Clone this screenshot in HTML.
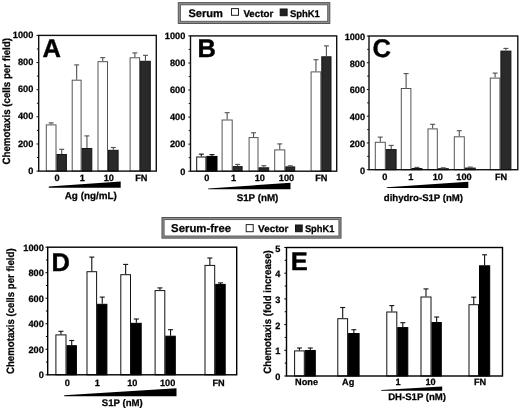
<!DOCTYPE html>
<html><head><meta charset="utf-8"><title>Chemotaxis figure</title>
<style>
html,body{margin:0;padding:0;background:#fff;}
body{width:520px;height:410px;overflow:hidden;}
svg{display:block;font-family:"Liberation Sans", sans-serif;filter:grayscale(1);}
text{stroke:#000;stroke-width:0.25px;paint-order:stroke;text-rendering:geometricPrecision;}
</style></head>
<body>
<svg width="520" height="410" viewBox="0 0 520 410" fill="#000">
<rect width="520" height="410" fill="#fff"/>
<rect x="46.3" y="124.9" width="9.7" height="46.2" fill="#fff" stroke="#555" stroke-width="1"/>
<rect x="57" y="154.5" width="9.4" height="16.6" fill="#2a2a2a" stroke="#151515" stroke-width="1"/>
<line x1="51.15" y1="124.4" x2="51.15" y2="122.9" stroke="#505050" stroke-width="1.1"/>
<line x1="48.65" y1="122.9" x2="53.65" y2="122.9" stroke="#505050" stroke-width="1.1"/>
<line x1="61.7" y1="154" x2="61.7" y2="149.3" stroke="#505050" stroke-width="1.1"/>
<line x1="59.2" y1="149.3" x2="64.2" y2="149.3" stroke="#505050" stroke-width="1.1"/>
<rect x="72.2" y="80.2" width="8.9" height="90.9" fill="#fff" stroke="#555" stroke-width="1"/>
<rect x="82.1" y="148.5" width="9.7" height="22.6" fill="#2a2a2a" stroke="#151515" stroke-width="1"/>
<line x1="76.65" y1="79.7" x2="76.65" y2="64.9" stroke="#505050" stroke-width="1.1"/>
<line x1="74.15" y1="64.9" x2="79.15" y2="64.9" stroke="#505050" stroke-width="1.1"/>
<line x1="86.95" y1="148" x2="86.95" y2="135.9" stroke="#505050" stroke-width="1.1"/>
<line x1="84.45" y1="135.9" x2="89.45" y2="135.9" stroke="#505050" stroke-width="1.1"/>
<rect x="98" y="61.7" width="9.5" height="109.4" fill="#fff" stroke="#555" stroke-width="1"/>
<rect x="108.5" y="150.3" width="9.6" height="20.8" fill="#2a2a2a" stroke="#151515" stroke-width="1"/>
<line x1="102.75" y1="61.2" x2="102.75" y2="57.6" stroke="#505050" stroke-width="1.1"/>
<line x1="100.25" y1="57.6" x2="105.25" y2="57.6" stroke="#505050" stroke-width="1.1"/>
<line x1="113.3" y1="149.8" x2="113.3" y2="147.5" stroke="#505050" stroke-width="1.1"/>
<line x1="110.8" y1="147.5" x2="115.8" y2="147.5" stroke="#505050" stroke-width="1.1"/>
<rect x="130.1" y="57.8" width="9.5" height="113.3" fill="#fff" stroke="#555" stroke-width="1"/>
<rect x="140.6" y="61.3" width="9.7" height="109.8" fill="#2a2a2a" stroke="#151515" stroke-width="1"/>
<line x1="134.85" y1="57.3" x2="134.85" y2="52.9" stroke="#505050" stroke-width="1.1"/>
<line x1="132.35" y1="52.9" x2="137.35" y2="52.9" stroke="#505050" stroke-width="1.1"/>
<line x1="145.45" y1="60.8" x2="145.45" y2="55.3" stroke="#505050" stroke-width="1.1"/>
<line x1="142.95" y1="55.3" x2="147.95" y2="55.3" stroke="#505050" stroke-width="1.1"/>
<rect x="38.7" y="35.4" width="117.6" height="135.7" fill="none" stroke="#111" stroke-width="1.4"/>
<line x1="36.5" y1="171.1" x2="38.7" y2="171.1" stroke="#111" stroke-width="1"/>
<line x1="36.9" y1="157.53" x2="38.7" y2="157.53" stroke="#111" stroke-width="1"/>
<line x1="36.5" y1="143.96" x2="38.7" y2="143.96" stroke="#111" stroke-width="1"/>
<line x1="36.9" y1="130.39" x2="38.7" y2="130.39" stroke="#111" stroke-width="1"/>
<line x1="36.5" y1="116.82" x2="38.7" y2="116.82" stroke="#111" stroke-width="1"/>
<line x1="36.9" y1="103.25" x2="38.7" y2="103.25" stroke="#111" stroke-width="1"/>
<line x1="36.5" y1="89.68" x2="38.7" y2="89.68" stroke="#111" stroke-width="1"/>
<line x1="36.9" y1="76.11" x2="38.7" y2="76.11" stroke="#111" stroke-width="1"/>
<line x1="36.5" y1="62.54" x2="38.7" y2="62.54" stroke="#111" stroke-width="1"/>
<line x1="36.9" y1="48.97" x2="38.7" y2="48.97" stroke="#111" stroke-width="1"/>
<line x1="36.5" y1="35.4" x2="38.7" y2="35.4" stroke="#111" stroke-width="1"/>
<text x="33.3" y="173.7" font-size="9.2" text-anchor="end" font-weight="bold">0</text>
<text x="33.3" y="146.56" font-size="9.2" text-anchor="end" font-weight="bold">200</text>
<text x="33.3" y="119.42" font-size="9.2" text-anchor="end" font-weight="bold">400</text>
<text x="33.3" y="92.28" font-size="9.2" text-anchor="end" font-weight="bold">600</text>
<text x="33.3" y="65.14" font-size="9.2" text-anchor="end" font-weight="bold">800</text>
<text x="33.3" y="38" font-size="9.2" text-anchor="end" font-weight="bold">1000</text>
<text x="57.1" y="180.6" font-size="9.2" text-anchor="middle" font-weight="bold">0</text>
<text x="82.2" y="180.6" font-size="9.2" text-anchor="middle" font-weight="bold">1</text>
<text x="108.8" y="180.6" font-size="9.2" text-anchor="middle" font-weight="bold">10</text>
<text x="141.3" y="180.6" font-size="9.2" text-anchor="middle" font-weight="bold">FN</text>
<polygon points="48.8,186.6 120.7,181.5 120.7,187.8 48.8,187.8" fill="#000"/>
<text x="90.8" y="198.6" font-size="9.9" text-anchor="middle" font-weight="bold">Ag (ng/mL)</text>
<text x="42.6" y="56.6" font-size="25.5" text-anchor="start" font-weight="bold" style="stroke-width:0.4px">A</text>
<text x="9.6" y="101.3" font-size="10.6" text-anchor="middle" font-weight="bold" textLength="126.6" lengthAdjust="spacingAndGlyphs" transform="rotate(-90 9.6 101.3)">Chemotaxis (cells per field)</text>
<rect x="196.7" y="157" width="9.2" height="14.2" fill="#fff" stroke="#111" stroke-width="1"/>
<rect x="206.9" y="156.4" width="10.1" height="14.8" fill="#000" stroke="#000" stroke-width="1"/>
<line x1="201.3" y1="156.5" x2="201.3" y2="154.1" stroke="#111" stroke-width="1.1"/>
<line x1="198.8" y1="154.1" x2="203.8" y2="154.1" stroke="#111" stroke-width="1.1"/>
<line x1="211.95" y1="155.9" x2="211.95" y2="154.6" stroke="#111" stroke-width="1.1"/>
<line x1="209.45" y1="154.6" x2="214.45" y2="154.6" stroke="#111" stroke-width="1.1"/>
<rect x="222.1" y="120" width="10.1" height="51.2" fill="#fff" stroke="#555" stroke-width="1"/>
<rect x="233.2" y="166.6" width="8.9" height="4.6" fill="#2a2a2a" stroke="#151515" stroke-width="1"/>
<line x1="227.15" y1="119.5" x2="227.15" y2="112.7" stroke="#505050" stroke-width="1.1"/>
<line x1="224.65" y1="112.7" x2="229.65" y2="112.7" stroke="#505050" stroke-width="1.1"/>
<line x1="237.65" y1="166.1" x2="237.65" y2="164.4" stroke="#505050" stroke-width="1.1"/>
<line x1="235.15" y1="164.4" x2="240.15" y2="164.4" stroke="#505050" stroke-width="1.1"/>
<rect x="249.1" y="137.6" width="8.9" height="33.6" fill="#fff" stroke="#555" stroke-width="1"/>
<rect x="259" y="167.8" width="9.7" height="3.4" fill="#2a2a2a" stroke="#151515" stroke-width="1"/>
<line x1="253.55" y1="137.1" x2="253.55" y2="132.8" stroke="#505050" stroke-width="1.1"/>
<line x1="251.05" y1="132.8" x2="256.05" y2="132.8" stroke="#505050" stroke-width="1.1"/>
<line x1="263.85" y1="167.3" x2="263.85" y2="165.7" stroke="#505050" stroke-width="1.1"/>
<line x1="261.35" y1="165.7" x2="266.35" y2="165.7" stroke="#505050" stroke-width="1.1"/>
<rect x="274.7" y="149.9" width="10.1" height="21.3" fill="#fff" stroke="#555" stroke-width="1"/>
<rect x="285.8" y="166.9" width="8.9" height="4.3" fill="#2a2a2a" stroke="#151515" stroke-width="1"/>
<line x1="279.75" y1="149.4" x2="279.75" y2="143.9" stroke="#505050" stroke-width="1.1"/>
<line x1="277.25" y1="143.9" x2="282.25" y2="143.9" stroke="#505050" stroke-width="1.1"/>
<line x1="290.25" y1="166.4" x2="290.25" y2="165.8" stroke="#505050" stroke-width="1.1"/>
<line x1="287.75" y1="165.8" x2="292.75" y2="165.8" stroke="#505050" stroke-width="1.1"/>
<rect x="311.1" y="71.9" width="9.7" height="99.3" fill="#fff" stroke="#555" stroke-width="1"/>
<rect x="321.8" y="56.8" width="9.2" height="114.4" fill="#2a2a2a" stroke="#151515" stroke-width="1"/>
<line x1="315.95" y1="71.4" x2="315.95" y2="59.7" stroke="#505050" stroke-width="1.1"/>
<line x1="313.45" y1="59.7" x2="318.45" y2="59.7" stroke="#505050" stroke-width="1.1"/>
<line x1="326.4" y1="56.3" x2="326.4" y2="45.9" stroke="#505050" stroke-width="1.1"/>
<line x1="323.9" y1="45.9" x2="328.9" y2="45.9" stroke="#505050" stroke-width="1.1"/>
<rect x="190.5" y="35.9" width="146.2" height="135.3" fill="none" stroke="#111" stroke-width="1.4"/>
<line x1="188.3" y1="171.2" x2="190.5" y2="171.2" stroke="#111" stroke-width="1"/>
<line x1="188.7" y1="157.67" x2="190.5" y2="157.67" stroke="#111" stroke-width="1"/>
<line x1="188.3" y1="144.14" x2="190.5" y2="144.14" stroke="#111" stroke-width="1"/>
<line x1="188.7" y1="130.61" x2="190.5" y2="130.61" stroke="#111" stroke-width="1"/>
<line x1="188.3" y1="117.08" x2="190.5" y2="117.08" stroke="#111" stroke-width="1"/>
<line x1="188.7" y1="103.55" x2="190.5" y2="103.55" stroke="#111" stroke-width="1"/>
<line x1="188.3" y1="90.02" x2="190.5" y2="90.02" stroke="#111" stroke-width="1"/>
<line x1="188.7" y1="76.49" x2="190.5" y2="76.49" stroke="#111" stroke-width="1"/>
<line x1="188.3" y1="62.96" x2="190.5" y2="62.96" stroke="#111" stroke-width="1"/>
<line x1="188.7" y1="49.43" x2="190.5" y2="49.43" stroke="#111" stroke-width="1"/>
<line x1="188.3" y1="35.9" x2="190.5" y2="35.9" stroke="#111" stroke-width="1"/>
<text x="185.3" y="174.5" font-size="9.2" text-anchor="end" font-weight="bold">0</text>
<text x="185.3" y="147.44" font-size="9.2" text-anchor="end" font-weight="bold">200</text>
<text x="185.3" y="120.38" font-size="9.2" text-anchor="end" font-weight="bold">400</text>
<text x="185.3" y="93.32" font-size="9.2" text-anchor="end" font-weight="bold">600</text>
<text x="185.3" y="66.26" font-size="9.2" text-anchor="end" font-weight="bold">800</text>
<text x="185.3" y="39.2" font-size="9.2" text-anchor="end" font-weight="bold">1000</text>
<text x="206.8" y="180.8" font-size="9.2" text-anchor="middle" font-weight="bold">0</text>
<text x="233.5" y="180.8" font-size="9.2" text-anchor="middle" font-weight="bold">1</text>
<text x="259.8" y="180.8" font-size="9.2" text-anchor="middle" font-weight="bold">10</text>
<text x="286.5" y="180.8" font-size="9.2" text-anchor="middle" font-weight="bold">100</text>
<text x="321.3" y="180.8" font-size="9.2" text-anchor="middle" font-weight="bold">FN</text>
<polygon points="208.2,188.6 290.5,182.7 290.5,189.2 208.2,189.2" fill="#000"/>
<text x="257.5" y="200.6" font-size="9.8" text-anchor="middle" font-weight="bold">S1P (nM)</text>
<text x="197.6" y="56.5" font-size="25.5" text-anchor="start" font-weight="bold" style="stroke-width:0.4px">B</text>
<rect x="375.3" y="142.3" width="10" height="27.4" fill="#fff" stroke="#555" stroke-width="1"/>
<rect x="386.3" y="149.6" width="9.8" height="20.1" fill="#2a2a2a" stroke="#151515" stroke-width="1"/>
<line x1="380.3" y1="141.8" x2="380.3" y2="137.1" stroke="#505050" stroke-width="1.1"/>
<line x1="377.8" y1="137.1" x2="382.8" y2="137.1" stroke="#505050" stroke-width="1.1"/>
<line x1="391.2" y1="149.1" x2="391.2" y2="145.4" stroke="#505050" stroke-width="1.1"/>
<line x1="388.7" y1="145.4" x2="393.7" y2="145.4" stroke="#505050" stroke-width="1.1"/>
<rect x="401.3" y="88.5" width="9.6" height="81.2" fill="#fff" stroke="#555" stroke-width="1"/>
<rect x="411.9" y="168.5" width="10" height="1.2" fill="#2a2a2a" stroke="#151515" stroke-width="1"/>
<line x1="406.1" y1="88" x2="406.1" y2="73.6" stroke="#505050" stroke-width="1.1"/>
<line x1="403.6" y1="73.6" x2="408.6" y2="73.6" stroke="#505050" stroke-width="1.1"/>
<line x1="416.9" y1="168" x2="416.9" y2="167.4" stroke="#505050" stroke-width="1.1"/>
<line x1="414.4" y1="167.4" x2="419.4" y2="167.4" stroke="#505050" stroke-width="1.1"/>
<rect x="428" y="128.9" width="9.3" height="40.8" fill="#fff" stroke="#555" stroke-width="1"/>
<rect x="438.3" y="168.7" width="10" height="1" fill="#2a2a2a" stroke="#151515" stroke-width="1"/>
<line x1="432.65" y1="128.4" x2="432.65" y2="124.3" stroke="#505050" stroke-width="1.1"/>
<line x1="430.15" y1="124.3" x2="435.15" y2="124.3" stroke="#505050" stroke-width="1.1"/>
<line x1="443.3" y1="168.2" x2="443.3" y2="167.8" stroke="#505050" stroke-width="1.1"/>
<line x1="440.8" y1="167.8" x2="445.8" y2="167.8" stroke="#505050" stroke-width="1.1"/>
<rect x="454.3" y="136.8" width="10" height="32.9" fill="#fff" stroke="#555" stroke-width="1"/>
<rect x="465.3" y="168.1" width="9.9" height="1.6" fill="#2a2a2a" stroke="#151515" stroke-width="1"/>
<line x1="459.3" y1="136.3" x2="459.3" y2="130.7" stroke="#505050" stroke-width="1.1"/>
<line x1="456.8" y1="130.7" x2="461.8" y2="130.7" stroke="#505050" stroke-width="1.1"/>
<line x1="470.25" y1="167.6" x2="470.25" y2="167.1" stroke="#505050" stroke-width="1.1"/>
<line x1="467.75" y1="167.1" x2="472.75" y2="167.1" stroke="#505050" stroke-width="1.1"/>
<rect x="490.3" y="78.1" width="9.6" height="91.6" fill="#fff" stroke="#555" stroke-width="1"/>
<rect x="500.9" y="51.1" width="10" height="118.6" fill="#2a2a2a" stroke="#151515" stroke-width="1"/>
<line x1="495.1" y1="77.6" x2="495.1" y2="73.1" stroke="#505050" stroke-width="1.1"/>
<line x1="492.6" y1="73.1" x2="497.6" y2="73.1" stroke="#505050" stroke-width="1.1"/>
<line x1="505.9" y1="50.6" x2="505.9" y2="48.4" stroke="#505050" stroke-width="1.1"/>
<line x1="503.4" y1="48.4" x2="508.4" y2="48.4" stroke="#505050" stroke-width="1.1"/>
<rect x="369" y="36" width="148.8" height="133.7" fill="none" stroke="#111" stroke-width="1.4"/>
<line x1="366.8" y1="169.7" x2="369" y2="169.7" stroke="#111" stroke-width="1"/>
<line x1="367.2" y1="156.33" x2="369" y2="156.33" stroke="#111" stroke-width="1"/>
<line x1="366.8" y1="142.96" x2="369" y2="142.96" stroke="#111" stroke-width="1"/>
<line x1="367.2" y1="129.59" x2="369" y2="129.59" stroke="#111" stroke-width="1"/>
<line x1="366.8" y1="116.22" x2="369" y2="116.22" stroke="#111" stroke-width="1"/>
<line x1="367.2" y1="102.85" x2="369" y2="102.85" stroke="#111" stroke-width="1"/>
<line x1="366.8" y1="89.48" x2="369" y2="89.48" stroke="#111" stroke-width="1"/>
<line x1="367.2" y1="76.11" x2="369" y2="76.11" stroke="#111" stroke-width="1"/>
<line x1="366.8" y1="62.74" x2="369" y2="62.74" stroke="#111" stroke-width="1"/>
<line x1="367.2" y1="49.37" x2="369" y2="49.37" stroke="#111" stroke-width="1"/>
<line x1="366.8" y1="36" x2="369" y2="36" stroke="#111" stroke-width="1"/>
<text x="365.1" y="173.7" font-size="9.2" text-anchor="end" font-weight="bold">0</text>
<text x="365.1" y="146.96" font-size="9.2" text-anchor="end" font-weight="bold">200</text>
<text x="365.1" y="120.22" font-size="9.2" text-anchor="end" font-weight="bold">400</text>
<text x="365.1" y="93.48" font-size="9.2" text-anchor="end" font-weight="bold">600</text>
<text x="365.1" y="66.74" font-size="9.2" text-anchor="end" font-weight="bold">800</text>
<text x="365.1" y="40" font-size="9.2" text-anchor="end" font-weight="bold">1000</text>
<text x="384.8" y="180.2" font-size="9.2" text-anchor="middle" font-weight="bold">0</text>
<text x="410.9" y="180.2" font-size="9.2" text-anchor="middle" font-weight="bold">1</text>
<text x="437.8" y="180.2" font-size="9.2" text-anchor="middle" font-weight="bold">10</text>
<text x="464" y="180.2" font-size="9.2" text-anchor="middle" font-weight="bold">100</text>
<text x="501" y="180.2" font-size="9.2" text-anchor="middle" font-weight="bold">FN</text>
<polygon points="386.8,187.2 468.3,181.7 468.3,187.9 386.8,187.9" fill="#000"/>
<text x="423.4" y="201.4" font-size="9.6" text-anchor="middle" font-weight="bold">dihydro-S1P (nM)</text>
<text x="372.4" y="56.6" font-size="25.5" text-anchor="start" font-weight="bold" style="stroke-width:0.4px">C</text>
<rect x="55.9" y="334.9" width="10.1" height="39.9" fill="#fff" stroke="#111" stroke-width="1"/>
<rect x="67" y="345.7" width="9.4" height="29.1" fill="#000" stroke="#000" stroke-width="1"/>
<line x1="60.95" y1="334.4" x2="60.95" y2="331.3" stroke="#111" stroke-width="1.1"/>
<line x1="58.45" y1="331.3" x2="63.45" y2="331.3" stroke="#111" stroke-width="1.1"/>
<line x1="71.7" y1="345.2" x2="71.7" y2="340.5" stroke="#111" stroke-width="1.1"/>
<line x1="69.2" y1="340.5" x2="74.2" y2="340.5" stroke="#111" stroke-width="1.1"/>
<rect x="87" y="271.7" width="9.6" height="103.1" fill="#fff" stroke="#111" stroke-width="1"/>
<rect x="97.6" y="304.3" width="9.3" height="70.5" fill="#000" stroke="#000" stroke-width="1"/>
<line x1="91.8" y1="271.2" x2="91.8" y2="257.1" stroke="#111" stroke-width="1.1"/>
<line x1="89.3" y1="257.1" x2="94.3" y2="257.1" stroke="#111" stroke-width="1.1"/>
<line x1="102.25" y1="303.8" x2="102.25" y2="297.1" stroke="#111" stroke-width="1.1"/>
<line x1="99.75" y1="297.1" x2="104.75" y2="297.1" stroke="#111" stroke-width="1.1"/>
<rect x="120.8" y="274.7" width="9.7" height="100.1" fill="#fff" stroke="#111" stroke-width="1"/>
<rect x="131.5" y="323.3" width="9.7" height="51.5" fill="#000" stroke="#000" stroke-width="1"/>
<line x1="125.65" y1="274.2" x2="125.65" y2="264.4" stroke="#111" stroke-width="1.1"/>
<line x1="123.15" y1="264.4" x2="128.15" y2="264.4" stroke="#111" stroke-width="1.1"/>
<line x1="136.35" y1="322.8" x2="136.35" y2="319" stroke="#111" stroke-width="1.1"/>
<line x1="133.85" y1="319" x2="138.85" y2="319" stroke="#111" stroke-width="1.1"/>
<rect x="155.1" y="290.6" width="9.7" height="84.2" fill="#fff" stroke="#111" stroke-width="1"/>
<rect x="165.8" y="336.2" width="9.5" height="38.6" fill="#000" stroke="#000" stroke-width="1"/>
<line x1="159.95" y1="290.1" x2="159.95" y2="287.9" stroke="#111" stroke-width="1.1"/>
<line x1="157.45" y1="287.9" x2="162.45" y2="287.9" stroke="#111" stroke-width="1.1"/>
<line x1="170.55" y1="335.7" x2="170.55" y2="329.7" stroke="#111" stroke-width="1.1"/>
<line x1="168.05" y1="329.7" x2="173.05" y2="329.7" stroke="#111" stroke-width="1.1"/>
<rect x="205" y="265.4" width="9.7" height="109.4" fill="#fff" stroke="#111" stroke-width="1"/>
<rect x="215.7" y="284.4" width="9.5" height="90.4" fill="#000" stroke="#000" stroke-width="1"/>
<line x1="209.85" y1="264.9" x2="209.85" y2="258" stroke="#111" stroke-width="1.1"/>
<line x1="207.35" y1="258" x2="212.35" y2="258" stroke="#111" stroke-width="1.1"/>
<line x1="220.45" y1="283.9" x2="220.45" y2="282.9" stroke="#111" stroke-width="1.1"/>
<line x1="217.95" y1="282.9" x2="222.95" y2="282.9" stroke="#111" stroke-width="1.1"/>
<rect x="47.7" y="247.2" width="189" height="127.6" fill="none" stroke="#000" stroke-width="1.4"/>
<line x1="45.5" y1="374.8" x2="47.7" y2="374.8" stroke="#000" stroke-width="1"/>
<line x1="45.9" y1="362.04" x2="47.7" y2="362.04" stroke="#000" stroke-width="1"/>
<line x1="45.5" y1="349.28" x2="47.7" y2="349.28" stroke="#000" stroke-width="1"/>
<line x1="45.9" y1="336.52" x2="47.7" y2="336.52" stroke="#000" stroke-width="1"/>
<line x1="45.5" y1="323.76" x2="47.7" y2="323.76" stroke="#000" stroke-width="1"/>
<line x1="45.9" y1="311" x2="47.7" y2="311" stroke="#000" stroke-width="1"/>
<line x1="45.5" y1="298.24" x2="47.7" y2="298.24" stroke="#000" stroke-width="1"/>
<line x1="45.9" y1="285.48" x2="47.7" y2="285.48" stroke="#000" stroke-width="1"/>
<line x1="45.5" y1="272.72" x2="47.7" y2="272.72" stroke="#000" stroke-width="1"/>
<line x1="45.9" y1="259.96" x2="47.7" y2="259.96" stroke="#000" stroke-width="1"/>
<line x1="45.5" y1="247.2" x2="47.7" y2="247.2" stroke="#000" stroke-width="1"/>
<text x="43.8" y="378.1" font-size="9.2" text-anchor="end" font-weight="bold">0</text>
<text x="43.8" y="352.58" font-size="9.2" text-anchor="end" font-weight="bold">200</text>
<text x="43.8" y="327.06" font-size="9.2" text-anchor="end" font-weight="bold">400</text>
<text x="43.8" y="301.54" font-size="9.2" text-anchor="end" font-weight="bold">600</text>
<text x="43.8" y="276.02" font-size="9.2" text-anchor="end" font-weight="bold">800</text>
<text x="43.8" y="250.5" font-size="9.2" text-anchor="end" font-weight="bold">1000</text>
<text x="67.4" y="385.6" font-size="9.2" text-anchor="middle" font-weight="bold">0</text>
<text x="97.3" y="385.6" font-size="9.2" text-anchor="middle" font-weight="bold">1</text>
<text x="132.3" y="385.6" font-size="9.2" text-anchor="middle" font-weight="bold">10</text>
<text x="167.6" y="385.6" font-size="9.2" text-anchor="middle" font-weight="bold">100</text>
<text x="218.5" y="385.6" font-size="9.2" text-anchor="middle" font-weight="bold">FN</text>
<polygon points="64.2,395.2 176.5,388.3 176.5,396.3 64.2,396.3" fill="#000"/>
<text x="122.3" y="405.5" font-size="9.6" text-anchor="middle" font-weight="bold">S1P (nM)</text>
<text x="51.6" y="270.6" font-size="25.5" text-anchor="start" font-weight="bold" style="stroke-width:0.4px">D</text>
<text x="14.3" y="311.2" font-size="10.6" text-anchor="middle" font-weight="bold" textLength="125.6" lengthAdjust="spacingAndGlyphs" transform="rotate(-90 14.3 311.2)">Chemotaxis (cells per field)</text>
<rect x="294.6" y="350.9" width="9.7" height="25.1" fill="#fff" stroke="#111" stroke-width="1"/>
<rect x="305.3" y="350.5" width="10" height="25.5" fill="#000" stroke="#000" stroke-width="1"/>
<line x1="299.45" y1="350.4" x2="299.45" y2="348" stroke="#111" stroke-width="1.1"/>
<line x1="296.95" y1="348" x2="301.95" y2="348" stroke="#111" stroke-width="1.1"/>
<line x1="310.3" y1="350" x2="310.3" y2="348" stroke="#111" stroke-width="1.1"/>
<line x1="307.8" y1="348" x2="312.8" y2="348" stroke="#111" stroke-width="1.1"/>
<rect x="337.8" y="318.7" width="9.8" height="57.3" fill="#fff" stroke="#111" stroke-width="1"/>
<rect x="348.6" y="333.5" width="10.5" height="42.5" fill="#000" stroke="#000" stroke-width="1"/>
<line x1="342.7" y1="318.2" x2="342.7" y2="307.5" stroke="#111" stroke-width="1.1"/>
<line x1="340.2" y1="307.5" x2="345.2" y2="307.5" stroke="#111" stroke-width="1.1"/>
<line x1="353.85" y1="333" x2="353.85" y2="329.7" stroke="#111" stroke-width="1.1"/>
<line x1="351.35" y1="329.7" x2="356.35" y2="329.7" stroke="#111" stroke-width="1.1"/>
<rect x="386.8" y="312" width="10" height="64" fill="#fff" stroke="#111" stroke-width="1"/>
<rect x="397.8" y="327.6" width="10" height="48.4" fill="#000" stroke="#000" stroke-width="1"/>
<line x1="391.8" y1="311.5" x2="391.8" y2="305.6" stroke="#111" stroke-width="1.1"/>
<line x1="389.3" y1="305.6" x2="394.3" y2="305.6" stroke="#111" stroke-width="1.1"/>
<line x1="402.8" y1="327.1" x2="402.8" y2="322.7" stroke="#111" stroke-width="1.1"/>
<line x1="400.3" y1="322.7" x2="405.3" y2="322.7" stroke="#111" stroke-width="1.1"/>
<rect x="421" y="297" width="10" height="79" fill="#fff" stroke="#111" stroke-width="1"/>
<rect x="432" y="322.5" width="9.3" height="53.5" fill="#000" stroke="#000" stroke-width="1"/>
<line x1="426" y1="296.5" x2="426" y2="288.9" stroke="#111" stroke-width="1.1"/>
<line x1="423.5" y1="288.9" x2="428.5" y2="288.9" stroke="#111" stroke-width="1.1"/>
<line x1="436.65" y1="322" x2="436.65" y2="317" stroke="#111" stroke-width="1.1"/>
<line x1="434.15" y1="317" x2="439.15" y2="317" stroke="#111" stroke-width="1.1"/>
<rect x="469" y="304.7" width="9.5" height="71.3" fill="#fff" stroke="#111" stroke-width="1"/>
<rect x="479.5" y="265.8" width="10.2" height="110.2" fill="#000" stroke="#000" stroke-width="1"/>
<line x1="473.75" y1="304.2" x2="473.75" y2="297.2" stroke="#111" stroke-width="1.1"/>
<line x1="471.25" y1="297.2" x2="476.25" y2="297.2" stroke="#111" stroke-width="1.1"/>
<line x1="484.6" y1="265.3" x2="484.6" y2="254.8" stroke="#111" stroke-width="1.1"/>
<line x1="482.1" y1="254.8" x2="487.1" y2="254.8" stroke="#111" stroke-width="1.1"/>
<rect x="286.5" y="247.5" width="216" height="128.5" fill="none" stroke="#000" stroke-width="1.4"/>
<line x1="284.3" y1="376" x2="286.5" y2="376" stroke="#000" stroke-width="1"/>
<line x1="284.7" y1="363.15" x2="286.5" y2="363.15" stroke="#000" stroke-width="1"/>
<line x1="284.3" y1="350.3" x2="286.5" y2="350.3" stroke="#000" stroke-width="1"/>
<line x1="284.7" y1="337.45" x2="286.5" y2="337.45" stroke="#000" stroke-width="1"/>
<line x1="284.3" y1="324.6" x2="286.5" y2="324.6" stroke="#000" stroke-width="1"/>
<line x1="284.7" y1="311.75" x2="286.5" y2="311.75" stroke="#000" stroke-width="1"/>
<line x1="284.3" y1="298.9" x2="286.5" y2="298.9" stroke="#000" stroke-width="1"/>
<line x1="284.7" y1="286.05" x2="286.5" y2="286.05" stroke="#000" stroke-width="1"/>
<line x1="284.3" y1="273.2" x2="286.5" y2="273.2" stroke="#000" stroke-width="1"/>
<line x1="284.7" y1="260.35" x2="286.5" y2="260.35" stroke="#000" stroke-width="1"/>
<line x1="284.3" y1="247.5" x2="286.5" y2="247.5" stroke="#000" stroke-width="1"/>
<text x="280.4" y="380.1" font-size="9.2" text-anchor="end" font-weight="bold">0</text>
<text x="280.4" y="354.4" font-size="9.2" text-anchor="end" font-weight="bold">1</text>
<text x="280.4" y="328.7" font-size="9.2" text-anchor="end" font-weight="bold">2</text>
<text x="280.4" y="303" font-size="9.2" text-anchor="end" font-weight="bold">3</text>
<text x="280.4" y="277.3" font-size="9.2" text-anchor="end" font-weight="bold">4</text>
<text x="280.4" y="251.6" font-size="9.2" text-anchor="end" font-weight="bold">5</text>
<text x="306.6" y="385.1" font-size="9.2" text-anchor="middle" font-weight="bold">None</text>
<text x="348.2" y="385.1" font-size="9.2" text-anchor="middle" font-weight="bold">Ag</text>
<text x="398" y="385.1" font-size="9.2" text-anchor="middle" font-weight="bold">1</text>
<text x="430.5" y="385.1" font-size="9.2" text-anchor="middle" font-weight="bold">10</text>
<text x="480" y="385.1" font-size="9.2" text-anchor="middle" font-weight="bold">FN</text>
<polygon points="381.2,390 442.2,386.6 442.2,390.8 381.2,390.8" fill="#000"/>
<text x="417.1" y="399.8" font-size="9.6" text-anchor="middle" font-weight="bold">DH-S1P (nM)</text>
<text x="290.8" y="270.2" font-size="25.5" text-anchor="start" font-weight="bold" style="stroke-width:0.4px">E</text>
<text x="270.8" y="312" font-size="10.6" text-anchor="middle" font-weight="bold" textLength="123.5" lengthAdjust="spacingAndGlyphs" transform="rotate(-90 270.8 312)">Chemotaxis (fold increase)</text>
<rect x="178.25" y="2.65" width="151.6" height="20.8" fill="#8e8e8e" stroke="#4a4a4a" stroke-width="0.9"/>
<rect x="180.4" y="4.8" width="147.3" height="16.5" fill="#fff" stroke="#555" stroke-width="0.9"/>
<text x="188.4" y="16.6" font-size="11" text-anchor="start" font-weight="bold" lengthAdjust="spacingAndGlyphs" textLength="34.6">Serum</text>
<rect x="231.5" y="8.6" width="7" height="6.7" fill="#fff" stroke="#222" stroke-width="1"/>
<text x="243.4" y="16.6" font-size="9.8" text-anchor="start" font-weight="bold" lengthAdjust="spacingAndGlyphs" textLength="29.9">Vector</text>
<rect x="280.2" y="9" width="6.9" height="6.7" fill="#222" stroke="#111" stroke-width="1"/>
<text x="289.9" y="16.6" font-size="9.8" text-anchor="start" font-weight="bold" lengthAdjust="spacingAndGlyphs" textLength="30">SphK1</text>
<rect x="161.95" y="217.45" width="179.1" height="20.7" fill="#8e8e8e" stroke="#4a4a4a" stroke-width="0.9"/>
<rect x="164.1" y="219.6" width="174.8" height="16.4" fill="#fff" stroke="#555" stroke-width="0.9"/>
<text x="171.1" y="231.9" font-size="11.3" text-anchor="start" font-weight="bold" lengthAdjust="spacingAndGlyphs" textLength="60">Serum-free</text>
<rect x="246.2" y="224.6" width="7" height="7.1" fill="#fff" stroke="#222" stroke-width="1"/>
<text x="258.1" y="231.9" font-size="9.8" text-anchor="start" font-weight="bold" lengthAdjust="spacingAndGlyphs" textLength="30.4">Vector</text>
<rect x="295.5" y="225" width="6.7" height="6.7" fill="#222" stroke="#111" stroke-width="1"/>
<text x="304.9" y="231.9" font-size="9.8" text-anchor="start" font-weight="bold" lengthAdjust="spacingAndGlyphs" textLength="29.6">SphK1</text>
</svg>
</body></html>
